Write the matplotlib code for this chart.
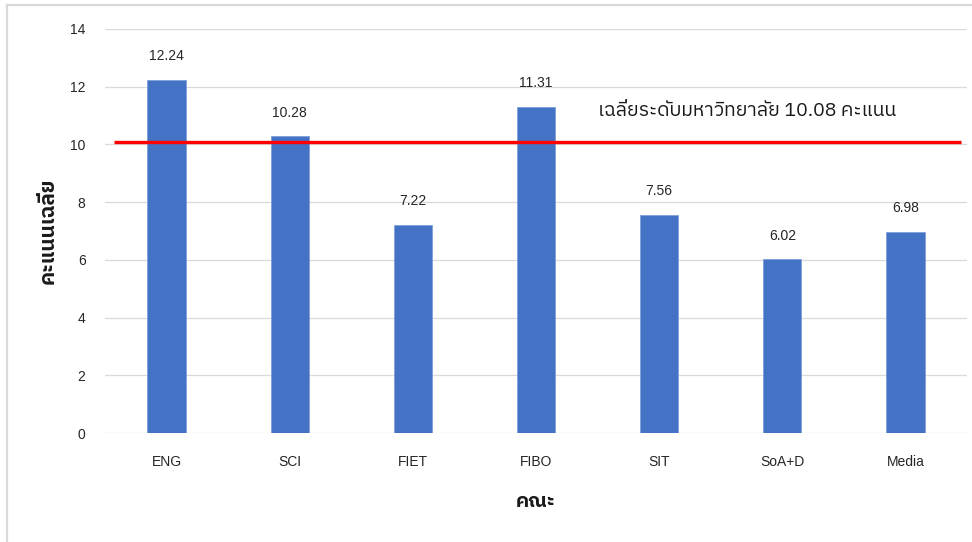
import matplotlib
matplotlib.use("Agg")
import matplotlib.pyplot as plt
from matplotlib import font_manager
from matplotlib.ft2font import FT2Font
from matplotlib.lines import Line2D

# Faculty average scores
faculties = ["ENG", "SCI", "FIET", "FIBO", "SIT", "SoA+D", "Media"]
scores = [12.24, 10.28, 7.22, 11.31, 7.56, 6.02, 6.98]
university_avg = 10.08
y_ticks = [0, 2, 4, 6, 8, 10, 12, 14]

avg_label = f"เฉลี่ยระดับมหาวิทยาลัย {university_avg:.2f} คะแนน"
y_label = "คะแนนเฉลี่ย"
x_label = "คณะ"


def find_thai_family():
    """Return the name of an installed font family that covers Thai script."""
    preferred = []
    others = []
    seen = set()
    for entry in font_manager.fontManager.ttflist:
        if entry.name in seen:
            continue
        try:
            cmap = FT2Font(entry.fname).get_charmap()
        except Exception:
            continue
        if all(cp in cmap for cp in (0x0E01, 0x0E40, 0x0E30, 0x0E48)):
            seen.add(entry.name)
            if "sans" in entry.name.lower() or "looped" in entry.name.lower():
                preferred.append(entry.name)
            else:
                others.append(entry.name)
    found = preferred + others
    return found[0] if found else None


thai_family = find_thai_family()
base_family = "Liberation Sans"
families = ([thai_family] if thai_family else []) + [base_family, "DejaVu Sans"]
plt.rcParams["font.family"] = families

fig = plt.figure(figsize=(9.72, 5.42), dpi=100)
ax = fig.add_axes([0.108, 0.2011, 0.8869, 0.7454])

bar_color = "#4472C4"
x = list(range(len(faculties)))
bars = ax.bar(x, scores, width=0.31, color=bar_color, edgecolor="#7FA0D8",
              linewidth=0.6, zorder=3)

for xi, v in zip(x, scores):
    ax.annotate(f"{v:.2f}", (xi, v), xytext=(0, 17), textcoords="offset points",
                ha="center", va="center", fontsize=10,
                family=[base_family, "DejaVu Sans"], color="#262626")

# university-wide average line
ax.plot([-0.43, 6.45], [university_avg, university_avg], color="#FF0000",
        linewidth=2.4, zorder=4, solid_capstyle="butt")
ax.text(3.5, university_avg + 1.08, avg_label, ha="left", va="center",
        fontsize=14, color="#1a1a1a")

ax.set_xlim(-0.5, len(faculties) - 0.5)
ax.set_ylim(0, 14)
ax.set_yticks(y_ticks)
ax.set_yticklabels([str(t) for t in y_ticks], family=[base_family, "DejaVu Sans"])
ax.set_xticks(x)
ax.set_xticklabels(faculties, family=[base_family, "DejaVu Sans"])
ax.tick_params(axis="both", length=0, labelsize=10, colors="#262626")
ax.tick_params(axis="y", pad=14)
ax.tick_params(axis="x", pad=16)
ax.grid(axis="y", color="#D9D9D9", linewidth=0.9, zorder=0)
ax.set_axisbelow(True)
for s in ax.spines.values():
    s.set_visible(False)

ax.set_ylabel(y_label, fontsize=15, fontweight="bold", labelpad=9, color="#1a1a1a")
ax.set_xlabel(x_label, fontsize=14, fontweight="bold", labelpad=17, color="#1a1a1a")

# chart frame (top and left edges)
fig.add_artist(Line2D([7 / 972, 1.0], [1 - 5 / 542, 1 - 5 / 542],
                      transform=fig.transFigure, color="#D9D9D9", linewidth=1.6))
fig.add_artist(Line2D([7 / 972, 7 / 972], [0.0, 1 - 5 / 542],
                      transform=fig.transFigure, color="#D9D9D9", linewidth=1.6))

fig.savefig("out.png", dpi=100, facecolor="white")
